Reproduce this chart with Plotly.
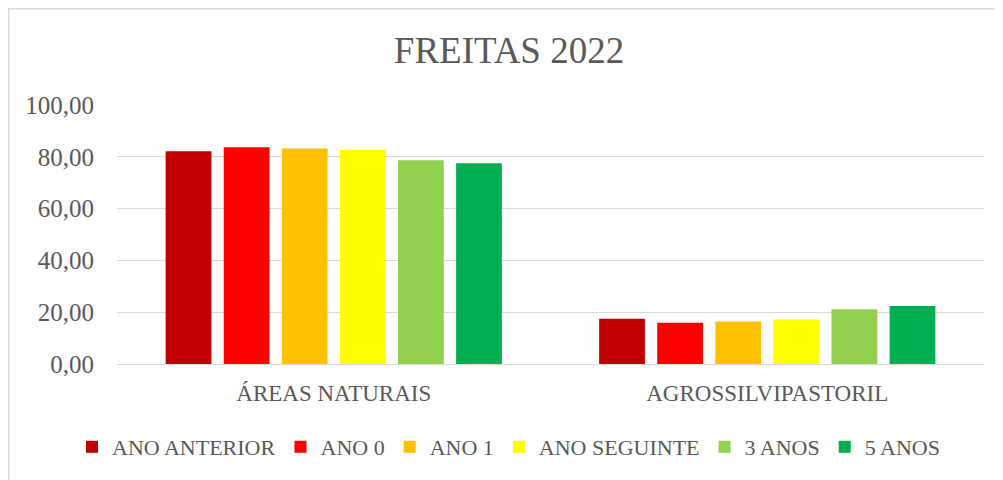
import plotly.graph_objects as go

categories = ["ÁREAS NATURAIS", "AGROSSILVIPASTORIL"]
series_names = ["ANO ANTERIOR", "ANO 0", "ANO 1", "ANO SEGUINTE", "3 ANOS", "5 ANOS"]
ano_anterior = [82.1, 17.5]
ano_0 = [83.7, 15.9]
ano_1 = [83.2, 16.4]
ano_seguinte = [82.6, 17.2]
tres_anos = [78.7, 21.1]
cinco_anos = [77.5, 22.4]
series_values = [ano_anterior, ano_0, ano_1, ano_seguinte, tres_anos, cinco_anos]
colors = ["#C00000", "#FF0000", "#FFC000", "#FFFF00", "#92D050", "#00B050"]
y_ticks = [0, 20, 40, 60, 80, 100]

# page body has an 8px margin; figure drawn at (8, 8)
OFF = 8
W, H = 1003 - OFF, 480 - OFF
L, R, T, B = 117 - OFF, 19, 105 - OFF, 116
pw, ph = W - L - R, H - T - B

font_family = "Liberation Serif"
text_color = "#595959"

fig = go.Figure()
for name, vals, col in zip(series_names, series_values, colors):
    fig.add_trace(go.Bar(name=name, x=categories, y=vals, marker=dict(color=col, line=dict(width=0))))

leg_left = 64 - OFF  # figure px
fig.update_layout(
    width=W, height=H,
    margin=dict(l=L, r=R, t=T, b=B, autoexpand=False),
    paper_bgcolor="white", plot_bgcolor="white",
    barmode="group", bargap=0.196, bargroupgap=0.212,
    separators=",.",
    font=dict(family=font_family, color=text_color, size=22),
    title=dict(text="FREITAS 2022", x=(509 - OFF) / W, xanchor="center",
               y=1 - (50 - OFF) / H, yanchor="middle",
               font=dict(family=font_family, size=37, color=text_color)),
    legend=dict(orientation="h", xref="paper", yref="paper",
                x=(leg_left + OFF - L) / pw, xanchor="left",
                y=(H - B - (447 - OFF)) / ph, yanchor="middle",
                font=dict(family=font_family, size=22, color=text_color),
                itemwidth=30, traceorder="normal"),
    showlegend=True,
)
fig.update_yaxes(range=[0, 100], tickvals=y_ticks, tickformat=".2f",
                 showgrid=True, gridcolor="#D9D9D9", gridwidth=1.3,
                 zeroline=True, zerolinecolor="#D9D9D9", zerolinewidth=1.3,
                 showline=False, ticks="", ticklabelstandoff=22,
                 tickfont=dict(family=font_family, size=25, color=text_color))
fig.update_xaxes(showgrid=False, showline=False, ticks="", ticklabelstandoff=13,
                 tickfont=dict(family=font_family, size=23, color=text_color))

# chart area border (visible at left and top)
fig.add_shape(type="rect", xref="paper", yref="paper",
              x0=(0.75 - L) / pw, x1=(W + 20 - L) / pw,
              y0=(H - B - (H + 20)) / ph, y1=(H - B - 0.75) / ph,
              line=dict(color="#D9D9D9", width=1.5), fillcolor="rgba(0,0,0,0)", layer="below")

fig.write_html("out.html")
